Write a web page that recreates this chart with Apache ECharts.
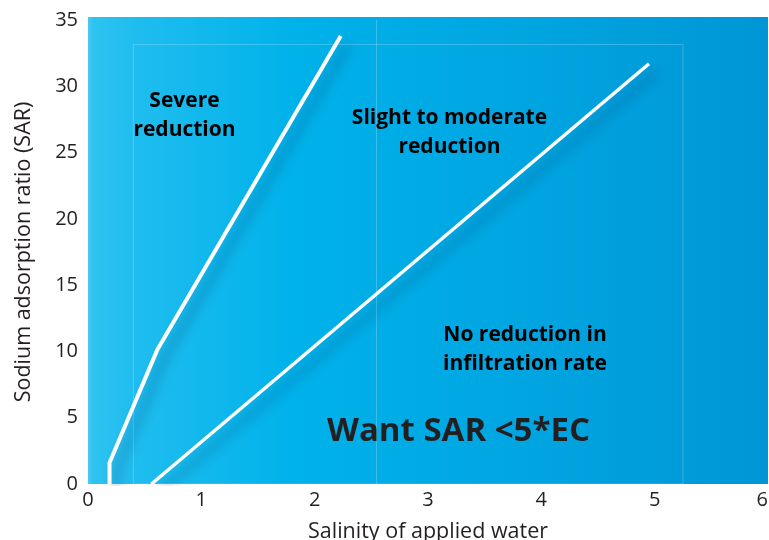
<!DOCTYPE html>
<html>
<head>
<meta charset="utf-8">
<script src="https://cdn.jsdelivr.net/npm/echarts@6/dist/echarts.min.js"></script>
<style>
  html, body { margin: 0; padding: 0; background: #fff; }
  #chart { width: 769px; height: 540px; }
</style>
</head>
<body>
<div id="chart"></div>
<script>
// boundary lines: [salinity, SAR]
const severeLine = [[0.19, 0], [0.19, 1.6], [0.61, 10.1], [2.23, 33.8]];
const slightLine = [[0.56, 0], [4.95, 31.7]];
const xTicks = [0, 1, 2, 3, 4, 5, 6];
const yTicks = [0, 5, 10, 15, 20, 25, 30, 35];

const chart = echarts.init(document.getElementById("chart"));

const font = "'Open Sans', 'Noto Sans', sans-serif";
const lineShadow = {
  shadowColor: "rgba(0, 50, 100, 0.45)",
  shadowBlur: 12,
  shadowOffsetX: 7,
  shadowOffsetY: 9
};
const regionText = (text, x, y, size, lh, color) => ({
  type: "text",
  z: 10,
  style: {
    text: text, x: x, y: y,
    font: "bold " + size + "px " + font,
    fill: color || "#000",
    textAlign: "center",
    textVerticalAlign: "top",
    lineHeight: lh
  }
});

chart.setOption({
  animation: false,
  grid: { left: 88, right: 1, top: 20, bottom: 56, outerBoundsMode: "none", containLabel: false },
  graphic: [
    {
      type: "rect",
      z: -10,
      shape: { x: 88, y: 17, width: 680, height: 467 },
      style: {
        fill: new echarts.graphic.LinearGradient(0, 0, 1, 0, [
          { offset: 0, color: "#4ccaf3" },
          { offset: 0.007, color: "#2ec3f1" },
          { offset: 0.07, color: "#1fbdef" },
          { offset: 0.3, color: "#00b2ea" },
          { offset: 0.7, color: "#00a3df" },
          { offset: 1, color: "#0096d6" }
        ])
      }
    },
    regionText("Severe\nreduction", 184.5, 86.5, 21, 29),
    regionText("Slight to moderate\nreduction", 449.5, 103.5, 21, 29),
    regionText("No reduction in\ninfiltration rate", 525, 320.5, 21, 29),
    regionText("Want SAR <5*EC", 458.5, 410, 33, 44, "#231f20")
  ],
  xAxis: {
    type: "value",
    min: xTicks[0],
    max: xTicks[xTicks.length - 1],
    interval: 1,
    name: "Salinity of applied water",
    nameLocation: "middle",
    nameGap: 37,
    nameTextStyle: { fontFamily: font, fontSize: 21.5, color: "#231f20" },
    axisLine: { show: false },
    axisTick: { show: false },
    splitLine: { show: false },
    axisLabel: { fontFamily: font, fontSize: 20, color: "#231f20", margin: 6, alignMaxLabel: "right" }
  },
  yAxis: {
    type: "value",
    min: yTicks[0],
    max: yTicks[yTicks.length - 1],
    interval: 5,
    name: "Sodium adsorption ratio (SAR)",
    nameLocation: "middle",
    nameGap: 53,
    nameTextStyle: { fontFamily: font, fontSize: 21.5, color: "#231f20" },
    axisLine: { show: false },
    axisTick: { show: false },
    splitLine: { show: false },
    axisLabel: { fontFamily: font, fontSize: 20, color: "#231f20", margin: 10 }
  },
  series: [
    {
      type: "line",
      data: severeLine,
      symbol: "none",
      lineStyle: Object.assign({ color: "#fff", width: 4 }, lineShadow),
      z: 5,
      markArea: {
        silent: true,
        itemStyle: { color: "rgba(0,0,0,0)", borderColor: "rgba(255,255,255,0.22)", borderWidth: 1 },
        data: [[{ coord: [0.4, 0] }, { coord: [5.25, 33.15] }]]
      },
      markLine: {
        silent: true,
        symbol: "none",
        label: { show: false },
        lineStyle: { color: "rgba(255,255,255,0.22)", width: 1, type: "solid" },
        data: [{ xAxis: 2.54 }]
      }
    },
    {
      type: "line",
      data: slightLine,
      symbol: "none",
      lineStyle: Object.assign({ color: "#fff", width: 3.5 }, lineShadow),
      z: 5
    }
  ]
});
</script>
</body>
</html>
